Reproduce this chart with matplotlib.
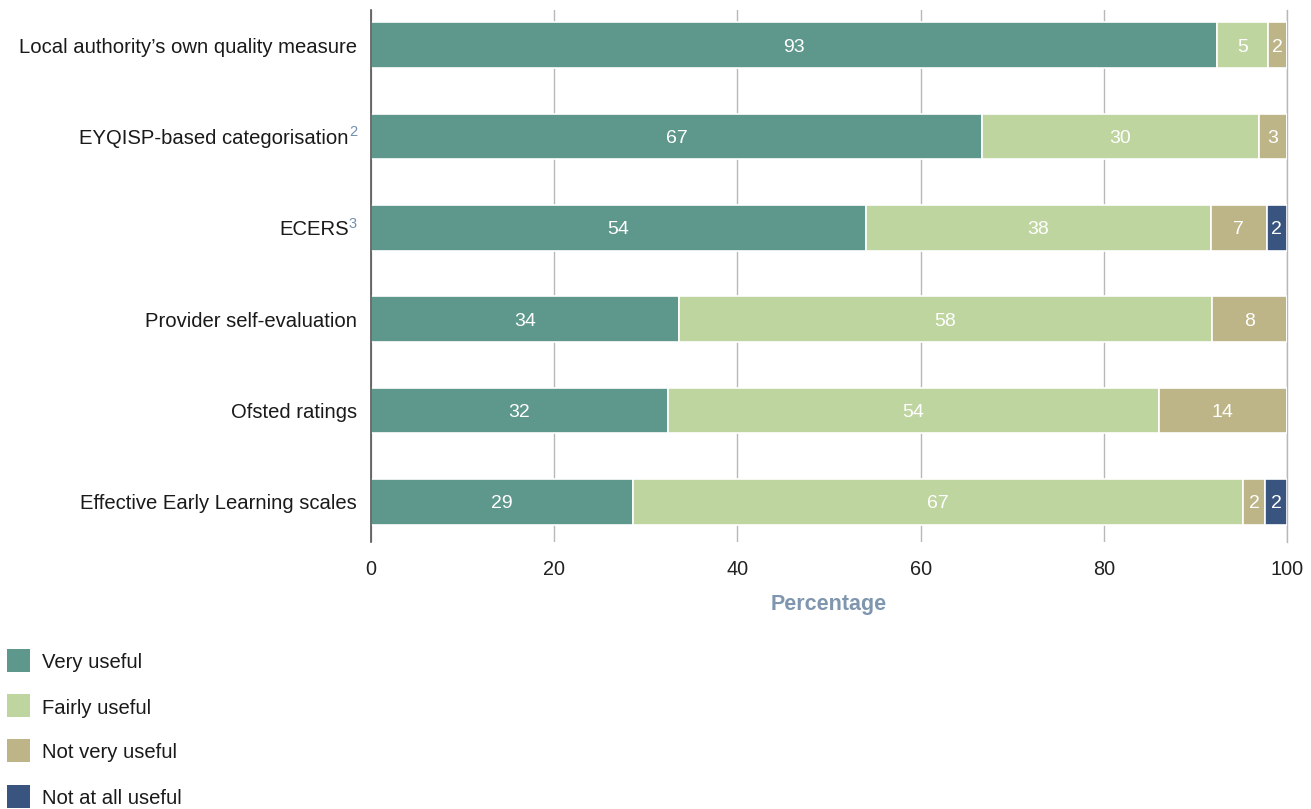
import matplotlib
matplotlib.use("Agg")
import matplotlib.pyplot as plt
from matplotlib.patches import Rectangle

plt.rcParams['font.family'] = ['Liberation Sans', 'DejaVu Sans']

categories = [
    "Local authority\u2019s own quality measure",
    "EYQISP-based categorisation",
    "ECERS",
    "Provider self-evaluation",
    "Ofsted ratings",
    "Effective Early Learning scales",
]
superscripts = ["", "2", "3", "", "", ""]

series_names = ["Very useful", "Fairly useful", "Not very useful", "Not at all useful"]
colors = ["#5e978b", "#bfd5a0", "#bdb588", "#39557f"]

# segment widths
very_useful = [92.4, 66.7, 54.0, 33.6, 32.4, 28.6]
fairly_useful = [5.5, 30.2, 37.7, 58.2, 53.6, 66.6]
not_very_useful = [2.1, 3.1, 6.1, 8.2, 14.0, 2.4]
not_at_all_useful = [0.0, 0.0, 2.2, 0.0, 0.0, 2.4]

# printed labels
very_labels = [93, 67, 54, 34, 32, 29]
fairly_labels = [5, 30, 38, 58, 54, 67]
not_very_labels = [2, 3, 7, 8, 14, 2]
not_at_all_labels = [None, None, 2, None, None, 2]

xticks = [0, 20, 40, 60, 80, 100]

W, H = 1311, 809
fig = plt.figure(figsize=(W / 100, H / 100), dpi=100)
ax_left, ax_right = 371 / W, 1287 / W
ax_top, ax_bottom = 1 - 10 / H, 1 - 542 / H
ax = fig.add_axes([ax_left, ax_bottom, ax_right - ax_left, ax_top - ax_bottom])

FS = 14.6
series = [very_useful, fairly_useful, not_very_useful, not_at_all_useful]
labels = [very_labels, fairly_labels, not_very_labels, not_at_all_labels]
ypos = list(range(len(categories)))
left = [0.0] * len(categories)
for vals, labs, col in zip(series, labels, colors):
    bars = ax.barh(ypos, vals, left=left, height=0.5, color=col,
                   edgecolor="white", linewidth=1.2, zorder=3)
    for i, (b, v, lab) in enumerate(zip(bars, vals, labs)):
        if v > 0 and lab is not None:
            ax.text(left[i] + v / 2, ypos[i], str(lab), ha="center", va="center_baseline",
                    color="white", fontsize=14, zorder=4)
    left = [l + v for l, v in zip(left, vals)]

ax.set_xlim(0, 100)
ax.set_ylim(5.438, -0.383)
ax.set_xticks(xticks)
ax.set_xticklabels([str(t) for t in xticks], fontsize=14.3, color="#222222")
ax.tick_params(axis="x", length=0, pad=13)
ax.set_yticks([])
ax.grid(axis="x", color="#b8b8b8", linewidth=1, zorder=0)
ax.set_axisbelow(True)
for s in ["top", "bottom"]:
    ax.spines[s].set_visible(False)
ax.spines["right"].set_color("#b8b8b8")
ax.spines["right"].set_linewidth(1)
ax.spines["right"].set_zorder(0)
ax.spines["left"].set_color("#555555")
ax.spines["left"].set_linewidth(1.2)
ax.spines["left"].set_zorder(5)

ax.set_xlabel("Percentage", fontsize=15.5, fontweight="bold", color="#7f96ae", labelpad=11)

# category labels with coloured superscripts
ytrans = ax.get_yaxis_transform()
for i, (cat, sup) in enumerate(zip(categories, superscripts)):
    if sup:
        ax.annotate(sup, xy=(0, i), xycoords=ytrans, xytext=(-14, 4),
                    textcoords="offset pixels", ha="right", va="center",
                    fontsize=10.5, color="#6f8fb0")
        ax.annotate(cat, xy=(0, i), xycoords=ytrans, xytext=(-22, 0),
                    textcoords="offset pixels", ha="right", va="center_baseline",
                    fontsize=FS, color="#1a1a1a")
    else:
        ax.annotate(cat, xy=(0, i), xycoords=ytrans, xytext=(-14, 0),
                    textcoords="offset pixels", ha="right", va="center_baseline",
                    fontsize=FS, color="#1a1a1a")

# legend
row_centers = [660, 705, 750, 796]
for name, col, yc in zip(series_names, colors, row_centers):
    fig.patches.append(Rectangle((7 / W, 1 - (yc + 11.5) / H), 23 / W, 23 / H,
                                 transform=fig.transFigure, facecolor=col,
                                 edgecolor="none"))
    fig.text(42 / W, 1 - (yc + 1) / H, name, ha="left", va="center_baseline",
             fontsize=FS, color="#1a1a1a")

fig.savefig("out.png", dpi=100)
